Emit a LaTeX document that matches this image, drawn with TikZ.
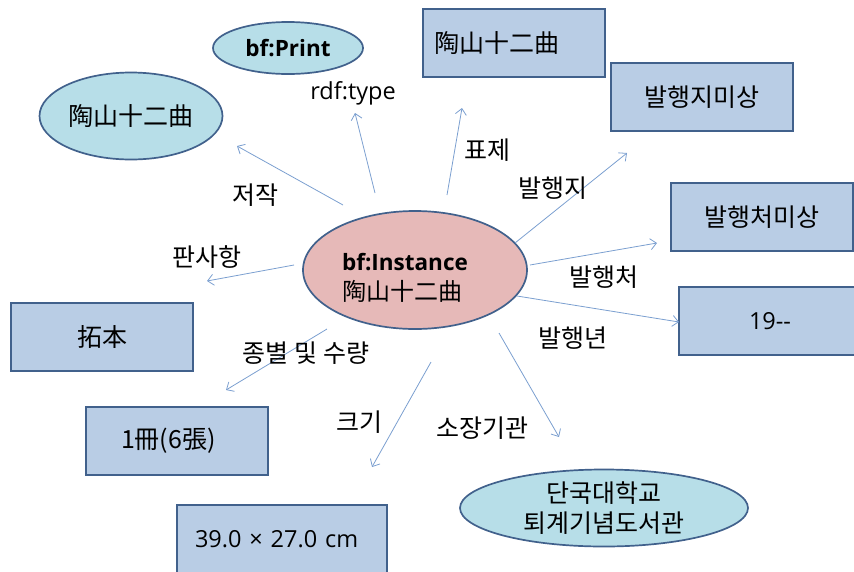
\documentclass[tikz,border=0pt]{standalone}
\usepackage{fontspec}
\setmainfont{Noto Sans CJK KR}
\newfontfamily\latfont{Open Sans}
\usetikzlibrary{shapes.geometric,arrows,arrows.meta}
\definecolor{edgeblue}{HTML}{41618C}
\definecolor{boxfill}{HTML}{B9CDE5}
\definecolor{ovalfill}{HTML}{B7DEE8}
\definecolor{rootfill}{HTML}{E6B9B8}
\definecolor{linkblue}{HTML}{7B9FD0}
\newcommand{\krsize}{\fontsize{25}{30}\selectfont}
\newcommand{\latsize}{\latfont\fontsize{23.5}{30}\selectfont}
\tikzset{%
	valbox/.style = {draw=edgeblue, line width=1.7pt, fill=boxfill, rectangle,
		minimum width=182pt, minimum height=68pt, inner sep=0pt, font=\krsize},
	oval/.style   = {draw=edgeblue, line width=1.7pt, fill=ovalfill, ellipse,
		inner sep=0pt, font=\krsize},
	root/.style   = {oval, fill=rootfill},
	link/.style   = {draw=linkblue, line width=0.8pt,
		-{Straight Barb[length=6pt,width=11pt]}},
	prop/.style   = {inner sep=0pt, font=\krsize}
}
\begin{document}
\begin{tikzpicture}[x=1pt,y=-1pt]
	\useasboundingbox (0,0) rectangle (854,571);
	\clip (0,0) rectangle (854,571);

	% center
	\node[root, minimum width=224pt, minimum height=118pt] (inst) at (415,270) {};
	\node[prop, align=left, font=\fontsize{24}{30}\selectfont] (instText) at (405,278)
		{{\latfont\fontsize{22.5}{30}\selectfont\bfseries bf:Instance}\\陶山十二曲};

	% ovals
	\node[oval, minimum width=150pt, minimum height=52pt,
		font=\latfont\fontsize{22.5}{30}\selectfont\bfseries] (print) at (288,48) {bf:Print};
	\node[oval, minimum width=183pt, minimum height=87pt] (auth) at (131,116) {陶山十二曲};
	\node[oval, minimum width=288pt, minimum height=77pt, align=center] (lib) at (604,508)
		{단국대학교\\퇴계기념도서관};

	% boxes
	\node[valbox, text width=160pt, inner xsep=11pt, align=left] (title) at (514,43) {陶山十二曲};
	\node[valbox] (place) at (702,97) {발행지미상};
	\node[valbox] (pub) at (762,217) {발행처미상};
	\node[valbox, font=\latsize] (year) at (770,321) {19-{}-};
	\node[valbox] (rubbing) at (102,337) {拓本};
	\node[valbox, text width=160pt, inner xsep=11pt, align=left] (extent) at (177,441) {\hspace{24pt}1冊(6張)};
	\node[valbox, minimum width=210pt, text width=174pt, inner xsep=18pt, align=left,
		font=\latsize] (size) at (282,539) {39.0 × 27.0 cm};

	% link ends
	\coordinate (s-auth) at (343,205);  \coordinate (e-auth) at (237,146);
	\coordinate (s-type) at (375,193);  \coordinate (e-type) at (355,113);
	\coordinate (s-title) at (447,195); \coordinate (e-title) at (462,108);
	\coordinate (s-place) at (515,243); \coordinate (e-place) at (627,153);
	\coordinate (s-pub) at (530,265);   \coordinate (e-pub) at (657,243);
	\coordinate (s-year) at (517,296);  \coordinate (e-year) at (679,322);
	\coordinate (s-lib) at (499,333);   \coordinate (e-lib) at (559,437);
	\coordinate (s-size) at (431,362);  \coordinate (e-size) at (372,467);
	\coordinate (s-ext) at (327,329);   \coordinate (e-ext) at (226,390);
	\coordinate (s-ed) at (294,265);    \coordinate (e-ed) at (207,281);

	\draw[link] (s-auth) -- (e-auth);
	\draw[link] (s-type) -- (e-type);
	\draw[link] (s-title) -- (e-title);
	\draw[link] (s-place) -- (e-place);
	\draw[link] (s-pub) -- (e-pub);
	\draw[link] (s-year) -- (e-year);
	\draw[link] (s-lib) -- (e-lib);
	\draw[link] (s-size) -- (e-size);
	\draw[link] (s-ext) -- (e-ext);
	\draw[link] (s-ed) -- (e-ed);

	% property labels
	\node[prop] (l-auth) at (255,195) {저작};
	\node[prop, font=\latsize] (l-type) at (353,93) {rdf:type};
	\node[prop] (l-title) at (487,150) {표제};
	\node[prop] (l-place) at (553,188) {발행지};
	\node[prop] (l-pub) at (604,277) {발행처};
	\node[prop] (l-year) at (573,338) {발행년};
	\node[prop] (l-lib) at (482,428) {소장기관};
	\node[prop] (l-size) at (359,422) {크기};
	\node[prop] (l-ext) at (306,353) {종별 및 수량};
	\node[prop] (l-ed) at (207,257) {판사항};
\end{tikzpicture}
\end{document}
